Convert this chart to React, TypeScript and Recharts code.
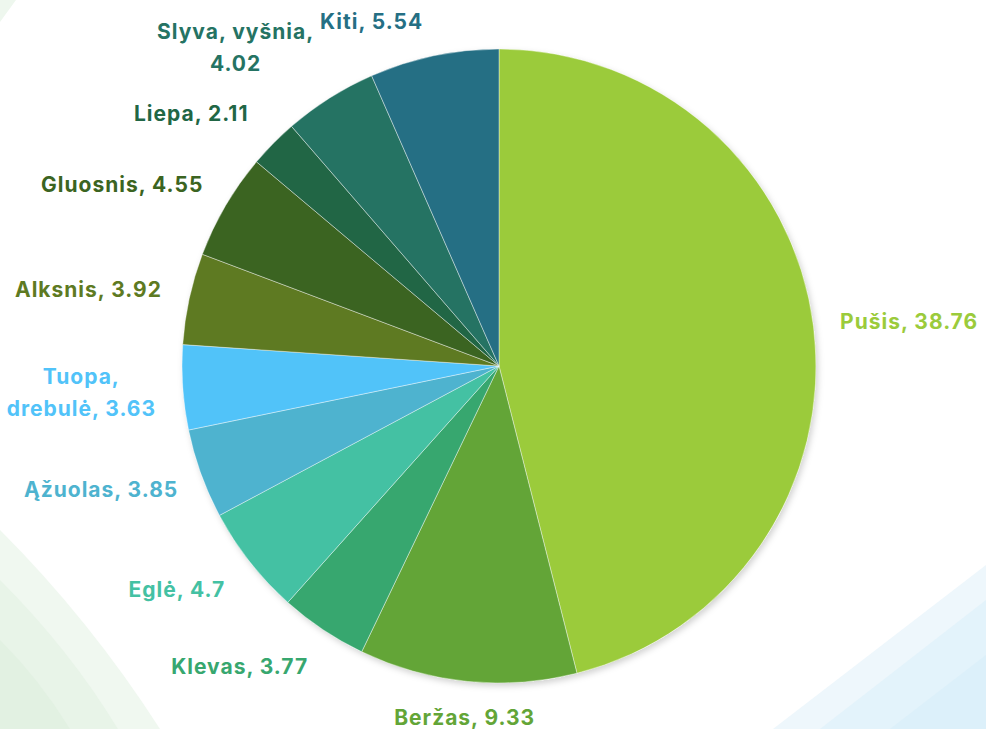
import { PieChart, Pie, Cell } from "recharts";

const species = [
  "Pušis",
  "Beržas",
  "Klevas",
  "Eglė",
  "Ąžuolas",
  "Tuopa, drebulė",
  "Alksnis",
  "Gluosnis",
  "Liepa",
  "Slyva, vyšnia",
  "Kiti",
];

const shares = [38.76, 9.33, 3.77, 4.7, 3.85, 3.63, 3.92, 4.55, 2.11, 4.02, 5.54];

const colors = [
  "#9BCB3B",
  "#63A537",
  "#37A76F",
  "#44C1A3",
  "#4EB3CF",
  "#51C3F9",
  "#5E7A22",
  "#3B6421",
  "#216645",
  "#257363",
  "#256F84",
];

const data = species.map((name, i) => ({ name, value: shares[i] }));

const RAD = Math.PI / 180;
const FONT = "Inter, 'Open Sans', sans-serif";
const CHAR_W = 11.3;
const LINE_H = 32;

// greedy word wrap, like the office data labels do
function wrap(text: string, max: number) {
  const words = text.split(" ");
  const lines: string[] = [];
  let cur = "";
  for (const w of words) {
    const next = cur ? cur + " " + w : w;
    if (next.length > max && cur) {
      lines.push(cur);
      cur = w;
    } else {
      cur = next;
    }
  }
  if (cur) lines.push(cur);
  return lines;
}

function renderLabel(props: any) {
  const { cx, cy, midAngle, outerRadius, index } = props;
  const r = outerRadius + 28;
  const cos = Math.cos(-midAngle * RAD);
  const sin = Math.sin(-midAngle * RAD);
  const px = cx + r * cos;
  const py = cy + r * sin;
  const lines = wrap(`${species[index]}, ${shares[index]}`, 14);
  const h = lines.length * LINE_H;
  const w = Math.max(...lines.map((l) => l.length)) * CHAR_W;

  // label box sits outside the anchor point
  const yc = py + (Math.abs(cos) > 0.3 ? (sin * h) / 2 : (sin * h) / 4);
  let xc = px;
  if (cos > 0.15) xc = px + w / 2;
  else if (cos < -0.15) xc = px - w / 2;

  const top = yc - ((lines.length - 1) * LINE_H) / 2;

  return (
    <text
      key={`lbl-${index}`}
      x={xc}
      y={top}
      fill={colors[index]}
      textAnchor="middle"
      dominantBaseline="central"
      style={{ fontFamily: FONT, fontWeight: 700, fontSize: 21, letterSpacing: 1 }}
    >
      {lines.map((l, i) => (
        <tspan key={i} x={xc} dy={i === 0 ? 0 : LINE_H}>
          {l}
        </tspan>
      ))}
    </text>
  );
}

export default function App() {
  return (
    <div
      style={{
        position: "absolute",
        left: 0,
        top: 0,
        width: 986,
        height: 729,
        background: "#ffffff",
        overflow: "hidden",
      }}
    >
      {/* decorative background bands */}
      <svg width={986} height={729} style={{ position: "absolute", left: 0, top: 0 }}>
        <path d="M0 0 L16 0 L0 22 Z" fill="#EEF7EE" />
        <path d="M0 530 Q90 620 160 729 L0 729 Z" fill="#F0F8F0" />
        <path d="M0 580 Q70 650 118 729 L0 729 Z" fill="#E8F4E8" />
        <path d="M0 640 Q40 680 70 729 L0 729 Z" fill="#E2F1E2" />
        <path d="M773 729 L986 565 L986 729 Z" fill="#EEF7FC" />
        <path d="M820 729 L986 600 L986 729 Z" fill="#E3F3FB" />
        <path d="M890 729 L986 655 L986 729 Z" fill="#DCF0FA" />
      </svg>
      <div style={{ position: "absolute", left: 0, top: 0 }}>
        <PieChart width={986} height={729} margin={{ top: 0, right: 0, bottom: 0, left: 0 }}>
          <defs>
            <filter id="pieShadow" x="-10%" y="-10%" width="120%" height="120%">
              <feDropShadow dx="2" dy="3" stdDeviation="3" floodColor="#000" floodOpacity="0.18" />
            </filter>
          </defs>
          <circle cx={499} cy={366} r={317} fill="#fff" filter="url(#pieShadow)" />
          <Pie
            data={data}
            dataKey="value"
            nameKey="name"
            cx={499}
            cy={366}
            outerRadius={317}
            startAngle={90}
            endAngle={-270}
            stroke="#ffffff"
            strokeWidth={0.4}
            label={renderLabel}
            labelLine={false}
            isAnimationActive={false}
          >
            {data.map((d, i) => (
              <Cell key={d.name} fill={colors[i]} />
            ))}
          </Pie>
        </PieChart>
      </div>
    </div>
  );
}
